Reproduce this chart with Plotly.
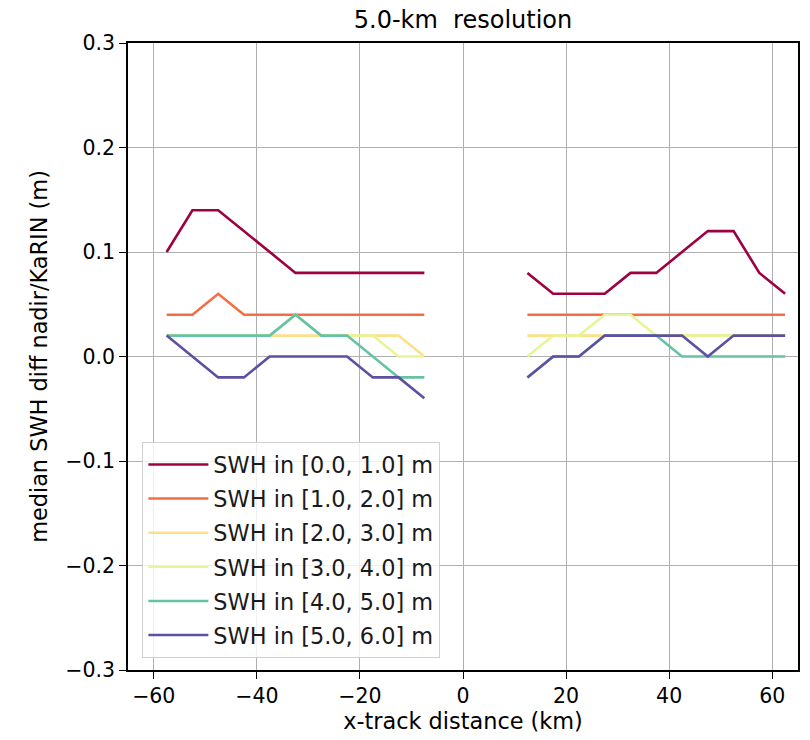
import plotly.graph_objects as go

x_left = [-57.5, -52.5, -47.5, -42.5, -37.5, -32.5, -27.5, -22.5, -17.5, -12.5, -7.5]
x_right = [12.5, 17.5, 22.5, 27.5, 32.5, 37.5, 42.5, 47.5, 52.5, 57.5, 62.5]

labels = ["SWH in [0.0, 1.0] m", "SWH in [1.0, 2.0] m", "SWH in [2.0, 3.0] m",
          "SWH in [3.0, 4.0] m", "SWH in [4.0, 5.0] m", "SWH in [5.0, 6.0] m"]
colors = ["#9e0142", "#f46d43", "#fee08b", "#e6f598", "#66c2a5", "#5e4fa2"]

swh0_left = [0.10, 0.14, 0.14, 0.12, 0.10, 0.08, 0.08, 0.08, 0.08, 0.08, 0.08]
swh0_right = [0.08, 0.06, 0.06, 0.06, 0.08, 0.08, 0.10, 0.12, 0.12, 0.08, 0.06]
swh1_left = [0.04, 0.04, 0.06, 0.04, 0.04, 0.04, 0.04, 0.04, 0.04, 0.04, 0.04]
swh1_right = [0.04, 0.04, 0.04, 0.04, 0.04, 0.04, 0.04, 0.04, 0.04, 0.04, 0.04]
swh2_left = [0.02, 0.02, 0.02, 0.02, 0.02, 0.02, 0.02, 0.02, 0.02, 0.02, 0.00]
swh2_right = [0.02, 0.02, 0.02, 0.02, 0.02, 0.02, 0.02, 0.02, 0.02, 0.02, 0.02]
swh3_left = [0.02, 0.02, 0.02, 0.02, 0.02, 0.04, 0.02, 0.02, 0.02, 0.00, 0.00]
swh3_right = [0.00, 0.02, 0.02, 0.04, 0.04, 0.02, 0.02, 0.02, 0.02, 0.02, 0.02]
swh4_left = [0.02, 0.02, 0.02, 0.02, 0.02, 0.04, 0.02, 0.02, 0.00, -0.02, -0.02]
swh4_right = [-0.02, 0.00, 0.00, 0.02, 0.02, 0.02, 0.00, 0.00, 0.00, 0.00, 0.00]
swh5_left = [0.02, 0.00, -0.02, -0.02, 0.00, 0.00, 0.00, 0.00, -0.02, -0.02, -0.04]
swh5_right = [-0.02, 0.00, 0.00, 0.02, 0.02, 0.02, 0.02, 0.00, 0.02, 0.02, 0.02]

series_left = [swh0_left, swh1_left, swh2_left, swh3_left, swh4_left, swh5_left]
series_right = [swh0_right, swh1_right, swh2_right, swh3_right, swh4_right, swh5_right]

x_ticks = [-60, -40, -20, 0, 20, 40, 60]
y_ticks = [-0.3, -0.2, -0.1, 0.0, 0.1, 0.2, 0.3]

FONT = "DejaVu Sans"

fig = go.Figure()
for i in range(len(labels)):
    fig.add_trace(go.Scatter(
        x=x_left + [None] + x_right,
        y=series_left[i] + [None] + series_right[i],
        mode="lines",
        name=labels[i],
        legendgroup=f"g{i}",
        line=dict(color=colors[i], width=2.6),
        connectgaps=False,
    ))

axis_common = dict(
    showgrid=True, gridcolor="#b0b0b0", gridwidth=1.2,
    showline=True, linecolor="black", linewidth=1.5, mirror=True,
    ticks="outside", ticklen=7, tickwidth=1.3, tickcolor="black",
    zeroline=False,
    tickfont=dict(family=FONT, size=20.5, color="black"),
)

fig.update_layout(
    width=810, height=740,
    margin=dict(l=128, r=10, t=43, b=70),
    paper_bgcolor="white", plot_bgcolor="white",
    font=dict(family=FONT, size=20.5, color="black"),
    title=dict(text="5.0-km  resolution", x=0.5, xref="paper", xanchor="center",
               y=1 - 20 / 740, yref="container", yanchor="middle",
               font=dict(family=FONT, size=24, color="black")),
    xaxis=dict(range=[-65, 65], tickvals=x_ticks,
               title=dict(text="x-track distance (km)", font=dict(family=FONT, size=22.4), standoff=4),
               **axis_common),
    yaxis=dict(range=[-0.3, 0.3], tickvals=y_ticks, tickformat=".1f",
               title=dict(text="median SWH diff nadir/KaRIN (m)", font=dict(family=FONT, size=22.4), standoff=12),
               **axis_common),
    legend=dict(x=0.021, y=0.019, xanchor="left", yanchor="bottom",
                bgcolor="rgba(255,255,255,0.8)", bordercolor="#d0d0d0", borderwidth=1.3,
                font=dict(family=FONT, size=22.4, color="#1a1a1a"),
                tracegroupgap=2, itemwidth=60),
    showlegend=True,
)

fig.write_html("out.html")
